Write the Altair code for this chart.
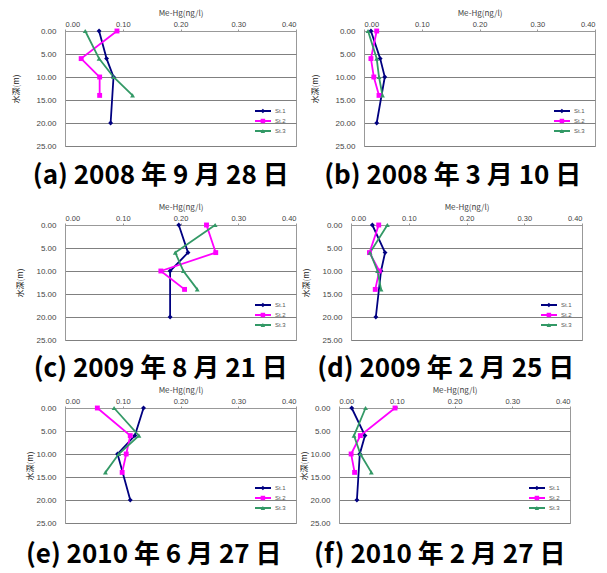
import altair as alt
import pandas as pd

STATIONS = ["St.1", "St.2", "St.3"]
COLORS = ["#000080", "#FF00FF", "#339966"]
SHAPES = ["diamond", "square", "triangle-up"]
DEPTH_ST1 = [0, 6, 10, 20]
DEPTH_ST23 = [0, 6, 10, 14]
X_TICKS = [0.0, 0.1, 0.2, 0.3, 0.4]
Y_TICKS = [0, 5, 10, 15, 20, 25]

CAPTIONS = [
    "(a) 2008 年 9 月 28 日",
    "(b)  2008 年 3 月 10 日",
    "(c) 2009 年 8 月 21 日",
    "(d)  2009 年 2 月 25 日",
    "(e)  2010 年 6 月 27 日",
    "(f)  2010 年 2 月 27 日",
]

A_ST1 = [0.059, 0.072, 0.084, 0.079]
A_ST2 = [0.090, 0.028, 0.060, 0.060]
A_ST3 = [0.035, 0.059, 0.084, 0.117]

B_ST1 = [0.012, 0.028, 0.036, 0.022]
B_ST2 = [0.022, 0.012, 0.017, 0.026]
B_ST3 = [0.007, 0.022, 0.026, 0.032]

C_ST1 = [0.197, 0.213, 0.182, 0.182]
C_ST2 = [0.245, 0.261, 0.166, 0.207]
C_ST3 = [0.260, 0.191, 0.205, 0.229]

D_ST1 = [0.037, 0.059, 0.052, 0.043]
D_ST2 = [0.048, 0.032, 0.049, 0.042]
D_ST3 = [0.063, 0.033, 0.046, 0.052]

E_ST1 = [0.136, 0.121, 0.091, 0.113]
E_ST2 = [0.056, 0.113, 0.106, 0.099]
E_ST3 = [0.085, 0.128, 0.093, 0.070]

F_ST1 = [0.022, 0.045, 0.036, 0.031]
F_ST2 = [0.097, 0.037, 0.021, 0.027]
F_ST3 = [0.046, 0.026, 0.037, 0.056]

PW, PH = 231, 115
LX, LY = 189, PH - 40


def make_df(s1, s2, s3):
    rows = []
    for st, depths, vals in [(STATIONS[0], DEPTH_ST1, s1),
                             (STATIONS[1], DEPTH_ST23, s2),
                             (STATIONS[2], DEPTH_ST23, s3)]:
        for d, v in zip(depths, vals):
            rows.append({"St": st, "St_": st, "depth": d, "mehg": v})
    return pd.DataFrame(rows)


def panel(s1, s2, s3, caption, cap_dx, cap_off, ytp):
    df = make_df(s1, s2, s3)
    base = alt.Chart(df)
    x = alt.X("mehg:Q",
              scale=alt.Scale(domain=[0, 0.4], nice=False, zero=False),
              axis=alt.Axis(orient="top", values=X_TICKS, format=".2f",
                            title="Me-Hg(ng/l)", grid=False))
    y = alt.Y("depth:Q",
              scale=alt.Scale(domain=[0, 25], reverse=True, nice=False),
              axis=alt.Axis(values=Y_TICKS, format=".2f", title="水深(m)",
                            grid=True, titlePadding=ytp))
    line = base.mark_line(strokeWidth=1.8).encode(
        x=x, y=y,
        stroke=alt.Stroke("St:N",
                          scale=alt.Scale(domain=STATIONS, range=COLORS),
                          legend=alt.Legend(orient="none", legendX=LX,
                                            legendY=LY, title=None,
                                            symbolType="stroke",
                                            symbolSize=256,
                                            symbolStrokeWidth=1.8,
                                            labelFontSize=6,
                                            labelColor="#555",
                                            labelOffset=3,
                                            clipHeight=10, rowPadding=0)),
        order=alt.Order("depth:Q"),
    )
    leg2 = alt.Legend(orient="none", legendX=LX + 5.9, legendY=LY,
                      title=None, symbolSize=20, symbolStrokeWidth=0,
                      labelFontSize=6, labelExpr="''",
                      clipHeight=10, rowPadding=0)
    pts = base.mark_point(filled=True, opacity=1, size=24).encode(
        x=x, y=y,
        fill=alt.Fill("St_:N",
                      scale=alt.Scale(domain=STATIONS, range=COLORS),
                      legend=leg2),
        shape=alt.Shape("St_:N",
                        scale=alt.Scale(domain=STATIONS, range=SHAPES),
                        legend=leg2),
    )
    return alt.layer(line, pts).properties(
        width=PW, height=PH,
        title=alt.TitleParams(caption, orient="bottom", fontSize=26,
                              font="Noto Sans CJK JP", fontWeight="bold",
                              color="black", anchor="middle", frame="bounds",
                              offset=cap_off, dx=cap_dx),
    ).resolve_scale(stroke="independent", fill="independent",
                    shape="independent")


pa = panel(A_ST1, A_ST2, A_ST3, CAPTIONS[0], 6, 13, 15)
pb = panel(B_ST1, B_ST2, B_ST3, CAPTIONS[1], -1, 13, 15)
pc = panel(C_ST1, C_ST2, C_ST3, CAPTIONS[2], 4, 12, 11)
pd_ = panel(D_ST1, D_ST2, D_ST3, CAPTIONS[3], 3, 12, 11)
pe = panel(E_ST1, E_ST2, E_ST3, CAPTIONS[4], -8, 15, 1)
pf = panel(F_ST1, F_ST2, F_ST3, CAPTIONS[5], 4, 15, 1)

RES = dict(stroke="independent", fill="independent", shape="independent")
row1 = alt.hconcat(pa, pb, spacing=14).resolve_scale(**RES)
row2 = alt.hconcat(pc, pd_, spacing=5).resolve_scale(**RES)
row3 = alt.hconcat(pe, pf, spacing=3).resolve_scale(**RES)

top2 = alt.vconcat(row1, row2, spacing=12).resolve_scale(**RES)
chart = alt.vconcat(top2, row3, spacing=2).resolve_scale(
    **RES
).properties(
    padding={"left": 4, "top": 0, "right": 0, "bottom": 0}
).configure(
    background="white"
).configure_view(
    stroke="#999999", strokeWidth=1
).configure_axis(
    labelFont="Arial", labelFontSize=8, labelColor="#444",
    titleFont="Noto Sans CJK JP", titleFontSize=8, titleColor="#444",
    titleFontWeight="normal",
    domainColor="#999999", tickColor="#999999",
    gridColor="#808080", gridWidth=1,
).configure_axisY(
    titleFontSize=8, titleColor="#222", tickSize=0, labelPadding=9,
).configure_axisX(
    titlePadding=3, tickSize=2, labelPadding=1, labelFontSize=7.5,
)

chart.save("out.html", embed_options={"renderer": "svg", "actions": False})
